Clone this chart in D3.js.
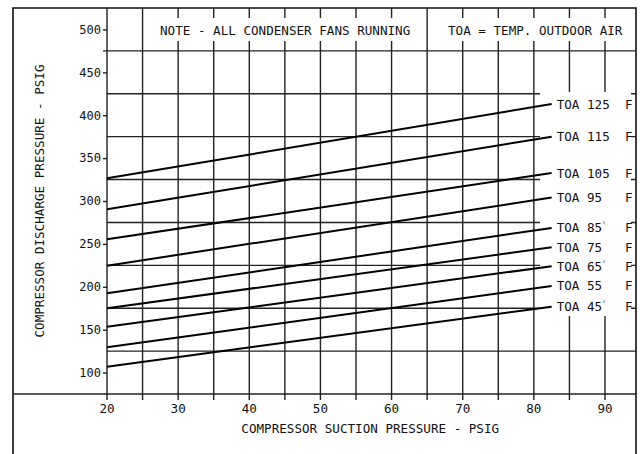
<!DOCTYPE html>
<html>
<head>
<meta charset="utf-8">
<title>Compressor Discharge vs Suction Pressure</title>
<script src="https://d3js.org/d3.v7.min.js"></script>
<style>
  body { margin: 0; background: #fff; }
  svg text { font-family: "DejaVu Sans Mono", monospace; fill: #111; }
  .grid line { stroke: #222; stroke-width: 1.4px; }
  .frame { stroke: #111; stroke-width: 1.6px; fill: none; }
  .toa { stroke: #000; stroke-width: 2px; fill: none; }
</style>
</head>
<body>
<div id="chart"></div>
<script>
// data
var suctionPts = [20, 82.5];                      // PSIG, start and end of each line
var toaTemps = [125, 115, 105, 95, 85, 75, 65, 55, 45];
var dischargeStart = [326.5, 290.3, 255.3, 224.6, 192.4, 174.9, 153.5, 129.5, 106.9];
var dischargeEnd   = [413, 375, 332.6, 304, 268.6, 246, 224, 201, 176.8];
var degreeShown = [false, false, false, false, true, false, true, false, true];

var xTicks = [20, 25, 30, 35, 40, 45, 50, 55, 60, 65, 70, 75, 80, 85, 90];
var xLabels = [20, 30, 40, 50, 60, 70, 80, 90];
var yTicks = [100, 150, 200, 250, 300, 350, 400, 450, 500];
var yGrid = [125, 175, 225, 275, 325, 375, 425, 475];

var W = 640, H = 454;
var frameL = 13, frameR = 636, frameT = 8;

var x = d3.scaleLinear().domain([20, 90]).range([107, 605]);
var y = d3.scaleLinear().domain([75, 525]).range([394, frameT]);

var svg = d3.select("#chart").append("svg")
  .attr("width", W).attr("height", H);

// outer frame (open at the bottom)
svg.append("path").attr("class", "frame")
  .attr("d", "M" + frameL + "," + H + "V" + frameT + "H" + frameR + "V" + H);

// grid
var grid = svg.append("g").attr("class", "grid");
grid.selectAll(".vg").data(xTicks).enter().append("line")
  .attr("x1", function(d) { return x(d); }).attr("x2", function(d) { return x(d); })
  .attr("y1", frameT).attr("y2", y(75) + 6);
grid.selectAll(".hg").data(yGrid).enter().append("line")
  .attr("x1", function(d) { return d === 475 ? x(20) - 4 : x(20); }).attr("x2", frameR)
  .attr("y1", function(d) { return y(d); }).attr("y2", function(d) { return y(d); });
// x axis baseline runs across the whole frame
grid.append("line").attr("x1", frameL).attr("x2", frameR)
  .attr("y1", y(75)).attr("y2", y(75));

// y axis ticks and labels
svg.append("g")
  .attr("transform", "translate(" + x(20) + ",0)")
  .call(d3.axisLeft(y).tickValues(yTicks).tickSize(4).tickPadding(2))
  .call(function(g) {
    g.select(".domain").remove();
    g.selectAll("line").attr("stroke", "#222").attr("stroke-width", 1.4);
    g.selectAll("text").style("font-size", "12px").attr("fill", "#111")
      .style("font-family", "DejaVu Sans Mono, monospace");
  });

// x tick labels
svg.append("g").selectAll("text").data(xLabels).enter().append("text")
  .attr("x", function(d) { return x(d); })
  .attr("y", 413)
  .attr("text-anchor", "middle")
  .style("font-size", "12.6px")
  .text(function(d) { return d; });

// note box texts (grid lines are broken behind them)
svg.append("rect").attr("x", 152).attr("y", 18).attr("width", 268).attr("height", 23).attr("fill", "#fff");
svg.append("rect").attr("x", 438).attr("y", 18).attr("width", 194).attr("height", 23).attr("fill", "#fff");
svg.append("text").attr("x", 160).attr("y", 35).style("font-size", "12.6px")
  .text("NOTE - ALL CONDENSER FANS RUNNING");
svg.append("text").attr("x", 448).attr("y", 35).style("font-size", "12.6px")
  .text("TOA = TEMP. OUTDOOR AIR");

// label area on the right is kept clear of grid
svg.append("rect").attr("x", 540).attr("y", 92).attr("width", 91).attr("height", 224).attr("fill", "#fff");

// TOA lines
var series = toaTemps.map(function(t, i) {
  return { temp: t, pts: [[suctionPts[0], dischargeStart[i]], [suctionPts[1], dischargeEnd[i]]], deg: degreeShown[i] };
});
var line = d3.line().x(function(d) { return x(d[0]); }).y(function(d) { return y(d[1]); });
svg.append("g").selectAll("path").data(series).enter().append("path")
  .attr("class", "toa")
  .attr("d", function(d) { return line(d.pts); });

// TOA labels
var adv = 7.6;
var lab = svg.append("g").selectAll("g").data(series).enter().append("g")
  .attr("transform", function(d) {
    var e = d.pts[1];
    return "translate(" + (x(e[0]) + 5) + "," + (y(e[1]) + 4.5) + ")";
  });
lab.append("text").style("font-size", "12.6px").text("TOA");
lab.append("text").attr("x", 4 * adv).style("font-size", "12.6px").text(function(d) { return d.temp; });
lab.append("text").attr("x", 9 * adv).style("font-size", "12.6px").text("F");
lab.filter(function(d) { return d.deg; }).append("text")
  .attr("x", 6 * adv).attr("y", -6).style("font-size", "6px").text("°");

// axis titles
svg.append("text")
  .attr("x", x(57))
  .attr("y", 433)
  .attr("text-anchor", "middle")
  .style("font-size", "12.6px")
  .text("COMPRESSOR SUCTION PRESSURE - PSIG");

svg.append("text")
  .attr("transform", "translate(44,201) rotate(-90)")
  .attr("text-anchor", "middle")
  .style("font-size", "12.6px")
  .text("COMPRESSOR DISCHARGE PRESSURE - PSIG");
</script>
</body>
</html>
